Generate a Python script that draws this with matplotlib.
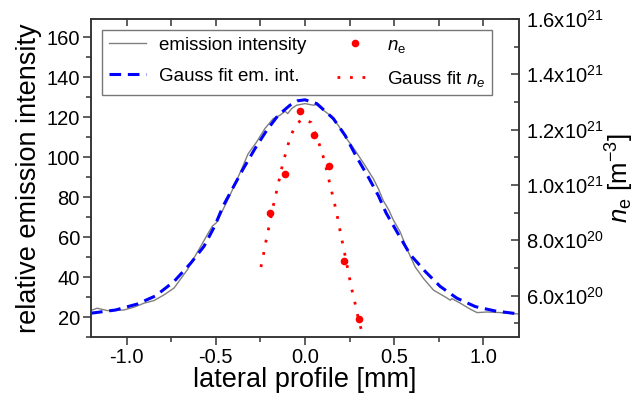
import numpy as np
import matplotlib
matplotlib.use('Agg')
import matplotlib.pyplot as plt
from matplotlib.ticker import MultipleLocator, FixedLocator, FixedFormatter

plt.rcParams['font.family'] = ['Liberation Sans', 'DejaVu Sans']
plt.rcParams['mathtext.fontset'] = 'custom'
plt.rcParams['mathtext.rm'] = 'Liberation Sans'
plt.rcParams['mathtext.it'] = 'Liberation Sans:italic'

# emission intensity (measured, noisy)
em_x = [-1.202, -1.165, -1.109, -1.016, -0.959, -0.903, -0.847, -0.790, -0.734, -0.687,
        -0.659, -0.622, -0.584, -0.547, -0.519, -0.496, -0.468, -0.431, -0.384, -0.347,
        -0.319, -0.272, -0.225, -0.178, -0.140, -0.112, -0.097, -0.075, -0.047, 0.0,
        0.047, 0.066, 0.103, 0.140, 0.187, 0.234, 0.281, 0.337, 0.384, 0.412,
        0.440, 0.470, 0.496, 0.534, 0.571, 0.618, 0.665, 0.721, 0.787, 0.815,
        0.824, 0.871, 0.927, 0.965, 1.021, 1.096, 1.198]
em_y = [23.2, 24.4, 23.2, 23.5, 24.9, 26.9, 28.2, 31.1, 34.5, 40.3,
        43.7, 49.6, 55.4, 61.3, 65.5, 67.2, 72.2, 78.9, 88.1, 95.7,
        101.6, 107.4, 114.2, 119.2, 120.9, 122.9, 121.7, 124.2, 125.9, 126.7,
        125.9, 126.2, 123.4, 120.9, 115.8, 109.1, 103.3, 95.7, 89.0, 84.0,
        78.0, 73.5, 68.4, 62.5, 54.2, 45.0, 39.2, 33.4, 30.0, 28.4,
        29.2, 26.9, 23.9, 22.2, 22.5, 22.2, 21.5]

# Gauss fit of emission intensity
gf_x = [-1.20, -1.062, -0.94, -0.837, -0.734, -0.640, -0.566, -0.506, -0.459, -0.403,
        -0.347, -0.281, -0.215, -0.150, -0.084, -0.042, 0.0, 0.066, 0.159, 0.225,
        0.290, 0.356, 0.412, 0.455, 0.524, 0.590, 0.674, 0.758, 0.852, 0.955,
        1.067, 1.20]
gf_y = [21.9, 23.5, 26.5, 30.6, 37.8, 47.0, 55.4, 65.5, 75.5, 84.8,
        94.0, 104.1, 113.3, 120.9, 125.9, 128.1, 128.6, 126.7, 119.2, 110.8,
        99.9, 89.8, 80.6, 72.0, 61.3, 51.2, 42.8, 35.3, 29.4, 25.2,
        23.0, 21.5]

# electron density
ne_x = [-0.198, -0.114, -0.030, 0.052, 0.137, 0.219, 0.303]
ne_y = [0.898e21, 1.040e21, 1.266e21, 1.182e21, 1.067e21, 0.726e21, 0.514e21]

# Gauss fit of n_e
nf_x = [-0.247, -0.232, -0.219, -0.204, -0.174, -0.157, -0.125, -0.105, -0.084, -0.060,
        -0.019, 0.034, 0.086, 0.108, 0.142, 0.174, 0.188, 0.202, 0.217, 0.246,
        0.260, 0.277, 0.292, 0.311, 0.326]
nf_y = [0.703e21, 0.751e21, 0.796e21, 0.843e21, 0.936e21, 0.983e21, 1.076e21, 1.122e21,
        1.170e21, 1.206e21, 1.239e21, 1.226e21, 1.137e21, 1.090e21, 0.997e21, 0.910e21,
        0.864e21, 0.817e21, 0.770e21, 0.676e21, 0.629e21, 0.583e21, 0.537e21, 0.488e21,
        0.451e21]

ne_ticks = [6.0e20, 8.0e20, 1.0e21, 1.2e21, 1.4e21, 1.6e21]
ne_labels = [r'6.0x10$^{20}$', r'8.0x10$^{20}$', r'1.0x10$^{21}$',
             r'1.2x10$^{21}$', r'1.4x10$^{21}$', r'1.6x10$^{21}$']

fig = plt.figure(figsize=(6.35, 4.01), dpi=100)
ax = fig.add_axes([0.1433, 0.1596, 0.674, 0.793])
ax2 = ax.twinx()

l1, = ax.plot(em_x, em_y, color='#808080', lw=1.0, label='emission intensity')
l2, = ax.plot(gf_x, gf_y, color='#0000ff', lw=2.2, dashes=(3.8, 2.2),
              label='Gauss fit em. int.')
l3, = ax2.plot(ne_x, ne_y, 'o', color='#ff0000', ms=5.5, mec='none', label=r'$n_\mathrm{e}$')
l4, = ax2.plot(nf_x, nf_y, color='#ff0000', lw=2.0, linestyle=(0, (1, 3.5)),
               label=r'Gauss fit $n_e$')

ax.set_xlim(-1.2, 1.2)
ax.set_ylim(10, 169)
ax2.set_ylim(0.45e21, 1.6e21)

ax.xaxis.set_minor_locator(MultipleLocator(0.25))
ax.yaxis.set_minor_locator(MultipleLocator(10))
ax.set_yticks([20, 40, 60, 80, 100, 120, 140, 160])
ax.set_xticks([-1.0, -0.5, 0.0, 0.5, 1.0])
ax.set_xticklabels(['-1.0', '-0.5', '0.0', '0.5', '1.0'])

ax2.yaxis.set_major_locator(FixedLocator(ne_ticks))
ax2.yaxis.set_major_formatter(FixedFormatter(ne_labels))
ax2.yaxis.set_minor_locator(MultipleLocator(1e20))

ax.tick_params(which='major', direction='out', length=6, width=1.1, labelsize=14.5,
               color='#333333', pad=2)
ax.tick_params(which='minor', direction='out', length=3.5, width=1.1, color='#333333')
ax2.tick_params(which='major', direction='in', length=6, width=1.1, labelsize=14.5,
                color='#333333', pad=5)
ax2.tick_params(which='minor', direction='in', length=3.5, width=1.1, color='#333333')

top = ax.secondary_xaxis('top')
top.xaxis.set_major_locator(MultipleLocator(0.25))
top.tick_params(direction='in', length=5, width=1.1, labeltop=False, color='#333333')

for a in (ax, ax2):
    for s in a.spines.values():
        s.set_linewidth(1.1)
        s.set_color('#333333')
top.spines['top'].set_visible(False)

ax.set_xlabel('lateral profile [mm]', fontsize=19.5, labelpad=0)
ax.set_ylabel('relative emission intensity', fontsize=19.5, labelpad=3)
ax2.set_ylabel(r'$n_\mathrm{e}$ [m$^{-3}$]', fontsize=18.5, labelpad=0)

leg = ax2.legend(handles=[l1, l2, l3, l4], ncol=2, loc='upper left',
                 bbox_to_anchor=(0.026, 0.966), borderaxespad=0, fontsize=13.5,
                 fancybox=False, frameon=True, edgecolor='#555555',
                 handlelength=2.0, columnspacing=1.6, labelspacing=0.75,
                 borderpad=0.35, handletextpad=0.7)
leg.get_frame().set_linewidth(1.0)

fig.savefig('out.png', dpi=100)
